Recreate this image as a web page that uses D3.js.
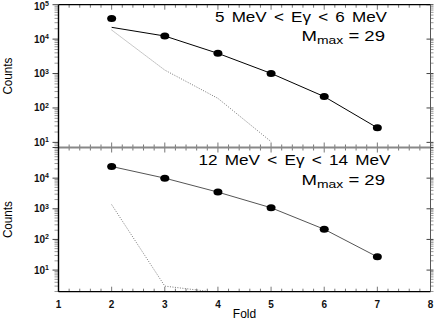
<!DOCTYPE html>
<html>
<head>
<meta charset="utf-8">
<script src="https://cdn.jsdelivr.net/npm/d3@7"></script>
<style>
  body { margin: 0; background: #fff; }
  svg { display: block; font-family: "Liberation Sans", Arial, sans-serif; }
  .tick-label { font-weight: bold; font-size: 10px; fill: #111; }
</style>
</head>
<body>
<svg id="chart" width="436" height="327"></svg>
<script>
// fold values (x)
var folds = [2, 3, 4, 5, 6, 7];

// top panel: 5 MeV < Eγ < 6 MeV
var countsLow = [40000, 12300, 3860, 1010, 214, 26.5];
var fitLow = [22000, 12300, 3860, 1010, 214, 26.5];
var bgFoldsLow = [2, 3, 4, 5];
var bgLow = [18400, 1260, 190, 10.5];

// bottom panel: 12 MeV < Eγ < 14 MeV
var countsHigh = [24000, 10000, 3500, 1080, 215, 27];
var bgFoldsHigh = [2, 3, 4];
var bgHigh = [1370, 3.0, 1.85];

var xTicks = [1, 2, 3, 4, 5, 6, 7, 8];
var decades = [1, 2, 3, 4, 5];

var svg = d3.select('#chart');

var left = 58.5, right = 430.5;
var x = d3.scaleLinear().domain([1, 8]).range([left, right]);

var panels = [
    {top: 4.7, bottom: 147.5, ymin: 7.1, counts: countsLow, fit: fitLow,
     bgX: bgFoldsLow, bgY: bgLow, lineColor: '#000',
     title: '5 MeV < E\u03b3 < 6 MeV', titleY: 22, titleEnd: 387, titleLen: 172, mY: 41},
    {top: 147.5, bottom: 291.7, ymin: 1.97, counts: countsHigh, fit: countsHigh,
     bgX: bgFoldsHigh, bgY: bgHigh, lineColor: '#555',
     title: '12 MeV < E\u03b3 < 14 MeV', titleY: 165, titleEnd: 390.5, titleLen: 192, mY: 185}
];

panels.forEach(function(p, pi) {
    var y = d3.scaleLog().domain([p.ymin, 1e5]).range([p.bottom, p.top]);
    var g = svg.append('g');

    var clipId = 'clip' + pi;
    svg.append('clipPath').attr('id', clipId).append('rect')
        .attr('x', left).attr('y', p.top)
        .attr('width', right - left).attr('height', p.bottom - p.top);

    // minor + major y ticks on left and right (outside)
    var minor = [];
    for (var e = 0; e <= 5; e++) {
        for (var m = 1; m <= 9; m++) {
            var v = m * Math.pow(10, e);
            if (v >= p.ymin && v <= 1e5) minor.push({v: v, major: m === 1});
        }
    }
    g.selectAll('.ytl').data(minor).enter().append('line')
        .attr('x1', function(d) { return left - (d.major ? 6 : 4); })
        .attr('x2', left)
        .attr('y1', function(d) { return y(d.v); })
        .attr('y2', function(d) { return y(d.v); })
        .attr('stroke', function(d) { return d.major ? '#444' : '#999'; })
        .attr('stroke-width', 1);
    g.selectAll('.ytr').data(minor).enter().append('line')
        .attr('x1', function(d) { return d.major ? right - 4 : right; })
        .attr('x2', right + 3)
        .attr('y1', function(d) { return y(d.v); })
        .attr('y2', function(d) { return y(d.v); })
        .attr('stroke', function(d) { return d.major ? '#444' : '#999'; })
        .attr('stroke-width', 1);

    // y tick labels 10^n
    var lab = g.selectAll('.ylab').data(decades.filter(function(d) {
            return Math.pow(10, d) >= p.ymin && (pi === 0 || d < 5);
        })).enter().append('text')
        .attr('class', 'tick-label')
        .attr('x', 49)
        .attr('y', function(d) { return Math.max(y(Math.pow(10, d)) + 3.5, 9.5); })
        .attr('text-anchor', 'end');
    lab.append('tspan').text('10');
    lab.append('tspan').attr('dy', -3.5).attr('font-size', '7px')
        .text(function(d) { return d; });

    // x ticks inward on bottom and top of each panel
    var xt = d3.range(0, 36).map(function(i) { return 1 + i * 0.2; });
    g.selectAll('.xtb').data(xt).enter().append('line')
        .attr('x1', function(d) { return x(d); })
        .attr('x2', function(d) { return x(d); })
        .attr('y1', p.bottom)
        .attr('y2', function(d, i) { return p.bottom - (i % 5 === 0 ? 5 : 3); })
        .attr('stroke', '#777');
    g.selectAll('.xtt').data(xt).enter().append('line')
        .attr('x1', function(d) { return x(d); })
        .attr('x2', function(d) { return x(d); })
        .attr('y1', p.top)
        .attr('y2', function(d, i) { return p.top + (i % 5 === 0 ? 5 : 3); })
        .attr('stroke', '#777');

    // background (dotted)
    var bgData = p.bgX.map(function(f, i) { return [f, p.bgY[i]]; });
    g.append('path')
        .datum(bgData)
        .attr('clip-path', 'url(#' + clipId + ')')
        .attr('fill', 'none')
        .attr('stroke', '#777')
        .attr('stroke-width', 1)
        .attr('stroke-dasharray', '1,1.5')
        .attr('d', d3.line().x(function(d) { return x(d[0]); }).y(function(d) { return y(d[1]); }));

    // solid line
    var fitData = folds.map(function(f, i) { return [f, p.fit[i]]; });
    g.append('path')
        .datum(fitData)
        .attr('fill', 'none')
        .attr('stroke', p.lineColor)
        .attr('stroke-width', 1)
        .attr('d', d3.line().x(function(d) { return x(d[0]); }).y(function(d) { return y(d[1]); }));

    // points
    g.selectAll('.pt').data(folds).enter().append('ellipse')
        .attr('cx', function(d) { return x(d); })
        .attr('cy', function(d, i) { return y(p.counts[i]); })
        .attr('rx', 4.5)
        .attr('ry', 3.5)
        .attr('fill', '#000');

    // annotations
    g.append('text')
        .attr('x', p.titleEnd - p.titleLen)
        .attr('y', p.titleY)
        .attr('font-size', '14px')
        .attr('word-spacing', '2px')
        .attr('textLength', p.titleLen)
        .attr('lengthAdjust', 'spacingAndGlyphs')
        .text(p.title);
    var mt = g.append('text')
        .attr('x', 301.5)
        .attr('y', p.mY)
        .attr('font-size', '14px')
        .attr('textLength', 83.5)
        .attr('lengthAdjust', 'spacingAndGlyphs');
    mt.append('tspan').text('M');
    mt.append('tspan').attr('dy', 3).attr('font-size', '10.5px').text('max');
    mt.append('tspan').attr('dy', -3).text('  =  29');

    // Counts label
    g.append('text')
        .attr('transform', 'translate(12,' + ((p.top + p.bottom) / 2) + ') rotate(-90)')
        .attr('text-anchor', 'middle')
        .attr('font-size', '13px')
        .attr('textLength', 37)
        .attr('lengthAdjust', 'spacingAndGlyphs')
        .text('Counts');
});

// frame
svg.append('line').attr('x1', left).attr('x2', right).attr('y1', 4.7).attr('y2', 4.7)
    .attr('stroke', '#000').attr('stroke-width', 1.2);
svg.append('line').attr('x1', left).attr('x2', right).attr('y1', 147.5).attr('y2', 147.5)
    .attr('stroke', '#888').attr('stroke-width', 2);
svg.append('line').attr('x1', left).attr('x2', right).attr('y1', 291.7).attr('y2', 291.7)
    .attr('stroke', '#000').attr('stroke-width', 1.2);
svg.append('line').attr('x1', left).attr('x2', left).attr('y1', 4.7).attr('y2', 291.7)
    .attr('stroke', '#000').attr('stroke-width', 1.4);
svg.append('line').attr('x1', right).attr('x2', right).attr('y1', 4.7).attr('y2', 291.7)
    .attr('stroke', '#555').attr('stroke-width', 1);

// x tick labels
svg.selectAll('.xlab').data(xTicks).enter().append('text')
    .attr('class', 'tick-label')
    .attr('x', function(d) { return x(d); })
    .attr('y', 308)
    .attr('text-anchor', 'middle')
    .text(function(d) { return d; });

svg.append('text')
    .attr('x', (left + right) / 2)
    .attr('y', 318)
    .attr('text-anchor', 'middle')
    .attr('font-size', '12px')
    .text('Fold');
</script>
</body>
</html>
